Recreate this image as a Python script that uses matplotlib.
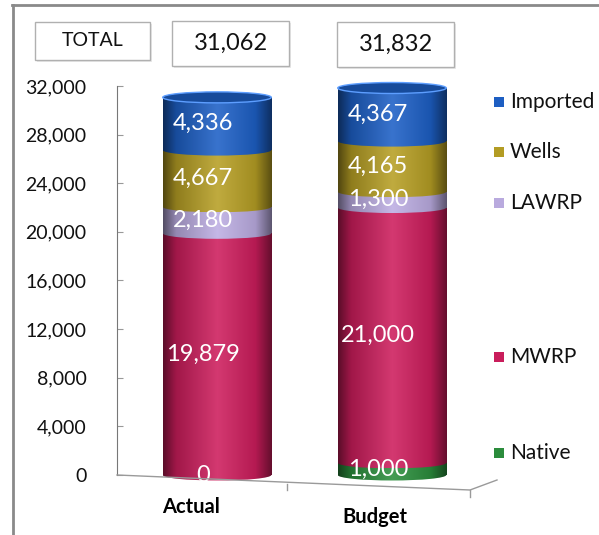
import matplotlib.pyplot as plt
import numpy as np
from matplotlib.colors import LinearSegmentedColormap, to_rgb
from matplotlib.patches import Ellipse, Rectangle
from matplotlib.lines import Line2D

plt.rcParams["font.family"] = ["Lato", "DejaVu Sans"]

categories = ["Actual", "Budget"]
sources = ["Native", "MWRP", "LAWRP", "Wells", "Imported"]
native = [0, 1000]
mwrp = [19879, 21000]
lawrp = [2180, 1300]
wells = [4667, 4165]
imported = [4336, 4367]
colors = ["#2b8c3c", "#c91d5b", "#b9aade", "#b39c24", "#1d5ec2"]
yticks = np.arange(0, 32001, 4000)

W, H = 599, 535


def fx(px):
    return px / W


def fy(py):
    return 1 - py / H


def shade_cmap(col):
    r = np.array(to_rgb(col))
    stops = [r * 0.45, r * 0.8, np.minimum(r * 0.9 + 0.12, 1), r * 0.9, r * 0.5]
    return LinearSegmentedColormap.from_list("", list(zip([0, 0.12, 0.5, 0.85, 1], stops)))


def gradient(ax, clip, x0, x1, y0, y1, col, z):
    grad = np.linspace(0, 1, 256).reshape(1, -1)
    im = ax.imshow(grad, cmap=shade_cmap(col), extent=[x0, x1, y0, y1],
                   aspect="auto", origin="lower", zorder=z, interpolation="bilinear")
    im.set_clip_path(clip)
    if isinstance(clip, Ellipse):
        im.set_clip_box(None)
    return im


fig = plt.figure(figsize=(W / 100, H / 100), dpi=100)
ax = fig.add_axes([fx(117), fy(493), fx(500) - fx(117), fy(80) - fy(493)])
ylo, yhi = -1480, 32490
ax.set_xlim(-0.5714, 1.6171)
ax.set_ylim(ylo, yhi)

px_per_unit = (fy(80) - fy(493)) * H / (yhi - ylo)
eh = 11 / px_per_unit
width = 0.62

x = np.arange(len(categories))
series = [native, mwrp, lawrp, wells, imported]
bottom = np.zeros(len(categories))
z = 2.0
for vals, col in zip(series, colors):
    bars = ax.bar(x, vals, width, bottom=bottom, color=col, zorder=z, linewidth=0)
    for bar, v in zip(bars, vals):
        if v == 0:
            continue
        bx, by = bar.get_x(), bar.get_y()
        bw, bh = bar.get_width(), bar.get_height()
        gradient(ax, bar, bx, bx + bw, by, by + bh, col, z + 0.01)
        ell = Ellipse((bx + bw / 2, by), bw, eh, facecolor="none", edgecolor="none", zorder=z)
        ax.add_patch(ell)
        gradient(ax, ell, bx, bx + bw, by - eh / 2, by + eh / 2, col, z + 0.02)
    for xi, b, v in zip(x, bottom, vals):
        ax.text(xi - 0.08, b + v / 2, f"{v:,}", color="white", fontsize=17,
                ha="center", va="center", zorder=10)
    bottom = bottom + np.array(vals)
    z += 0.1

# cylinder tops
top_col = np.array(to_rgb(colors[-1]))
for xi, t in zip(x, bottom):
    ax.add_patch(Ellipse((xi, t), width, eh, facecolor=top_col * 0.8,
                         edgecolor=np.minimum(top_col + 0.25, 1), linewidth=1, zorder=z))

ax.spines[["top", "right", "bottom"]].set_visible(False)
ax.spines["left"].set_bounds(0, 32000)
ax.spines["left"].set_color("#777777")
ax.set_yticks(yticks)
ax.set_yticklabels([f"{v:,}" for v in yticks])
ax.tick_params(axis="y", direction="in", length=4, color="#999999",
               labelsize=14, labelcolor="#111111", pad=22)
ax.set_xticks([])

for xi, cat, dx, dy in zip(x, categories, [-19, -12], [-23, -30]):
    ax.annotate(cat, (xi, 0), xytext=(dx, dy), textcoords="offset points",
                ha="center", va="center", fontsize=14.5, fontweight="bold")

# floor
fig.add_artist(Line2D([fx(117), fx(470), fx(497)], [fy(475), fy(490), fy(480)],
                      color="#9a9a9a", lw=1))
fig.add_artist(Line2D([fx(287), fx(287)], [fy(484), fy(490)], color="#9a9a9a", lw=1))
fig.add_artist(Line2D([fx(470), fx(470)], [fy(490), fy(497)], color="#9a9a9a", lw=1))

# frame
fig.add_artist(Line2D([fx(12), 1], [fy(5), fy(5)], color="#8a8a8a", lw=2))
fig.add_artist(Line2D([fx(13), fx(13)], [fy(5), 0], color="#8a8a8a", lw=2))

# total boxes
totals = bottom
boxes = [("TOTAL", 35, 22, 150, 60, 14),
         (f"{int(totals[0]):,}", 172, 21, 289, 66, 17),
         (f"{int(totals[1]):,}", 337, 22, 454, 67, 17)]
for txt, x0, y0, x1, y1, fs in boxes:
    fig.add_artist(Rectangle((fx(x0 + 2), fy(y1 + 2)), fx(x1 - x0), (y1 - y0) / H,
                             transform=fig.transFigure, facecolor="#e8e8e8", edgecolor="none"))
    fig.add_artist(Rectangle((fx(x0), fy(y1)), fx(x1 - x0), (y1 - y0) / H,
                             transform=fig.transFigure, facecolor="white",
                             edgecolor="#b0b0b0", lw=1))
    fig.text(fx((x0 + x1) / 2), fy((y0 + y1) / 2), txt, ha="center", va="center",
             fontsize=fs, color="#111111")

# legend
legend_y = [453, 357, 203, 152, 102]
for name, col, py in zip(sources, colors, legend_y):
    fig.add_artist(Rectangle((fx(494), fy(py + 5)), fx(10), 10 / H,
                             transform=fig.transFigure, facecolor=col, edgecolor="none"))
    fig.text(fx(510), fy(py), name, ha="left", va="center", fontsize=15, color="#111111")

fig.savefig("out.png", dpi=100)
